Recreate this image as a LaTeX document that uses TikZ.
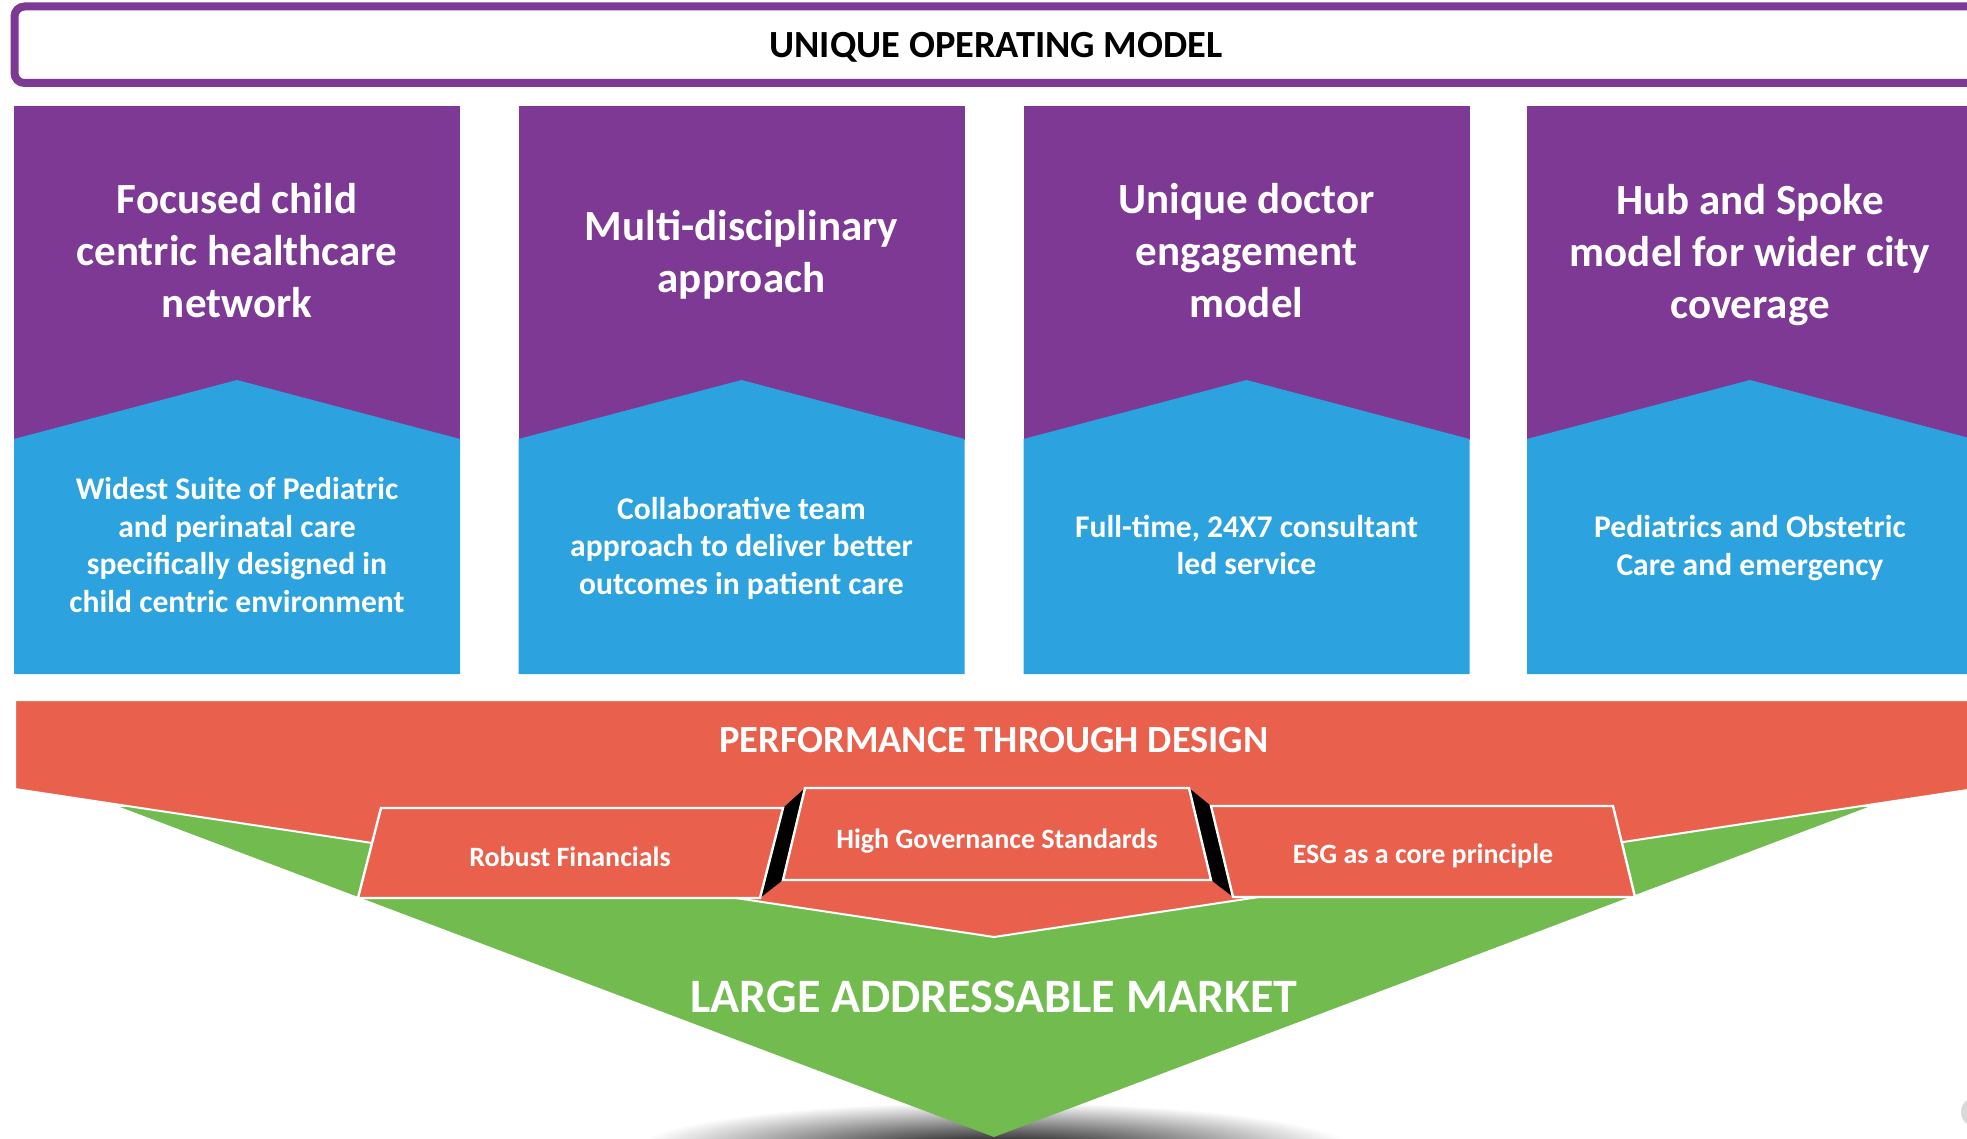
\documentclass[tikz,border=0pt]{standalone}
\usepackage{fontspec}
\setmainfont{Carlito}
\usetikzlibrary{positioning}
\usetikzlibrary{calc}
\definecolor{uompurple}{RGB}{125,57,148}
\definecolor{uomblue}{RGB}{44,162,222}
\definecolor{uomorange}{RGB}{233,97,76}
\definecolor{uomgreen}{RGB}{114,188,79}
\tikzstyle{pillar}=[fill=uompurple]
\tikzstyle{roof}=[fill=uomblue]
\tikzstyle{headline}=[text=white,align=center,font=\bfseries\fontsize{21.5}{26}\selectfont]
\tikzstyle{bodyline}=[text=white,align=center,font=\bfseries\fontsize{15.8}{18.8}\selectfont]
\tikzstyle{plank}=[fill=uomorange,draw=white,line width=1.2pt]
\tikzstyle{plankside}=[fill=black]
\tikzstyle{planklabel}=[text=white,font=\bfseries\fontsize{14}{17}\selectfont]
\tikzstyle{banner}=[font=\bfseries\fontsize{19.2}{23}\selectfont]

\begin{document}
\begin{tikzpicture}[x=0.5pt,y=-0.5pt]
\useasboundingbox (0,0) rectangle (1967,1139);

%model frame
\draw[uompurple, line width=4pt, rounded corners=5pt] (2100,6.5) -- (14.5,6.5) -- (14.5,83) -- (2100,83);
\node[banner] (model) at (996,47.5) {UNIQUE OPERATING MODEL};

%pillars
\foreach \cx in {237,741.5,1246.5,1750}{
    \fill[pillar] (\cx-223,106) rectangle (\cx+223,440);
    \fill[roof] (\cx-223,674) -- (\cx-223,439) -- (\cx,380) -- (\cx+223,439) -- (\cx+223,674) -- cycle;
}

\foreach \pos/\name/\txt in {{(237,251)/focus/{Focused child\\centric healthcare\\network}}, {(741.5,255)/multi/{Multi-disciplinary\\approach}}, {(1246.5,251)/doctor/{Unique doctor\\engagement\\model}}, {(1750,255)/hub/{Hub and Spoke\\model for wider city\\coverage}}}
    \node[headline] (\name) at \pos {\txt};

\foreach \pos/\name/\txt in {{(237,545)/suite/{Widest Suite of Pediatric\\and perinatal care\\specifically designed in\\child centric environment}}, {(741.5,548)/team/{Collaborative team\\approach to deliver better\\outcomes in patient care}}, {(1246.5,545)/fulltime/{Full-time, 24X7 consultant\\led service}}, {(1750,548)/obstetric/{Pediatrics and Obstetric\\Care and emergency}}}
    \node[bodyline] (\name) at \pos {\txt};

%performance through design
\shade[inner color=black, outer color=white] (994,1150) ellipse (360 and 48);
\fill[uomgreen] (120,807) -- (1868,807) -- (994,1137) -- cycle;
\filldraw[uomorange, draw=white, line width=1pt] (15,700) -- (2100,700) -- (2100,770) -- (994,937) -- (15,789) -- cycle;
\node[banner,text=white] (design) at (994,740) {PERFORMANCE THROUGH DESIGN};

%planks
\fill[plankside] (783,808) -- (805,788) -- (783,880) -- (760,898) -- cycle;
\fill[plankside] (1189,788) -- (1211,806) -- (1233,897) -- (1211,880) -- cycle;
\draw[plank] (381,808) -- (783,808) -- (760,898) -- (358,898) -- cycle;
\draw[plank] (805,788) -- (1189,788) -- (1211,880) -- (783,880) -- cycle;
\draw[plank] (1211,806) -- (1613,806) -- (1635,897) -- (1233,897) -- cycle;
\node[planklabel] (robust) at (570,857) {Robust Financials};
\node[planklabel] (governance) at (997,841) {High Governance Standards};
\node[planklabel] (esg) at (1423,856) {ESG as a core principle};

\node[banner,text=white,font=\bfseries\fontsize{24}{29}\selectfont] (market) at (994,997) {LARGE ADDRESSABLE MARKET};

%corner
\fill[black!15] (1976,1112) circle (15);

\end{tikzpicture}
\end{document}
